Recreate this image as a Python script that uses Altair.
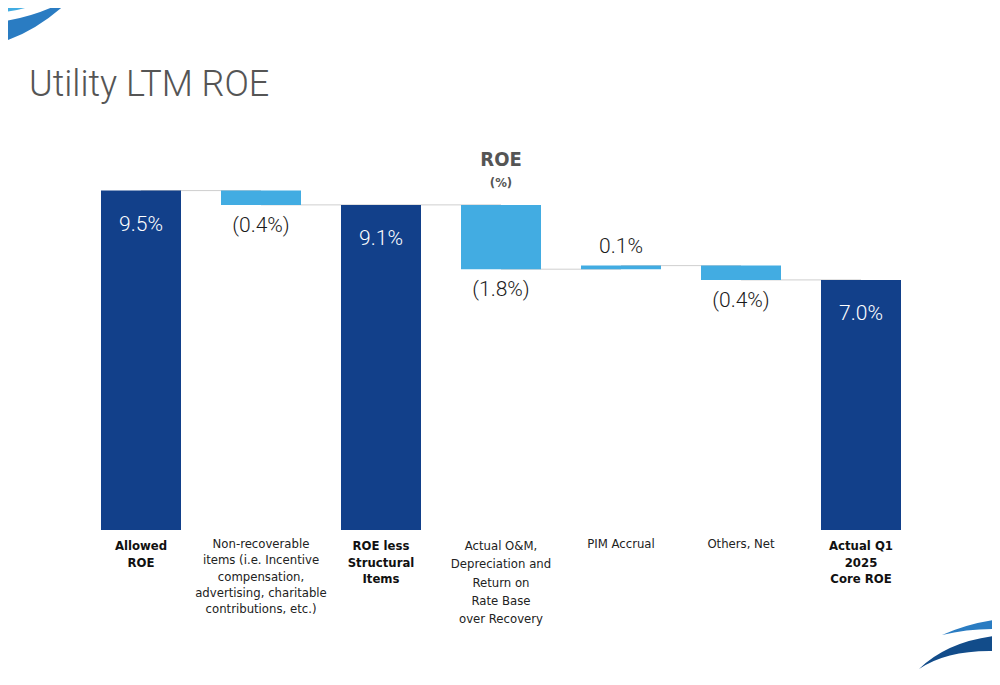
import altair as alt
import pandas as pd

categories = ["Allowed ROE", "Non-recoverable items", "ROE less Structural Items",
              "Actual O&M", "PIM Accrual", "Others, Net", "Actual Q1 2025 Core ROE"]
label_lines = [["Allowed", "ROE"],
               ["Non-recoverable", "items (i.e. Incentive", "compensation,", "advertising, charitable", "contributions, etc.)"],
               ["ROE less", "Structural", "Items"],
               ["Actual O&M,", "Depreciation and", "Return on", "Rate Base", "over Recovery"],
               ["PIM Accrual"],
               ["Others, Net"],
               ["Actual Q1", "2025", "Core ROE"]]
values = [9.5, -0.4, 9.1, -1.8, 0.1, -0.4, 7.0]
kinds = ["total", "delta", "total", "delta", "delta", "delta", "total"]
value_labels = ["9.5%", "(0.4%)", "9.1%", "(1.8%)", "0.1%", "(0.4%)", "7.0%"]
bold_label = [True, False, True, False, False, False, True]

DARK = "#12408A"
LIGHT = "#42ACE2"
FONT = "DejaVu Sans Condensed"
TFONT = "Roboto"

rows = []
running = 0.0
for c, v, k, vl, ll, b in zip(categories, values, kinds, value_labels, label_lines, bold_label):
    if k == "total":
        start, end = 0.0, v
    else:
        start, end = running, running + v
    running = end
    if k == "total":
        pos = "inside"
    elif v < 0:
        pos = "below"
    else:
        pos = "above"
    rows.append(dict(cat=c, start=start, end=end, lo=min(start, end), hi=max(start, end),
                     kind=k, vlabel=vl, pos=pos, label="\n".join(ll), bold=b))
df = pd.DataFrame(rows)

conn = pd.DataFrame([dict(cat=categories[i], nxt=categories[i + 1], level=rows[i]["end"])
                     for i in range(len(categories) - 1)])

xscale = alt.Scale(domain=categories, paddingInner=1 / 3, paddingOuter=1 / 6)
yscale = alt.Scale(domain=[0, 11])
X = alt.X("cat:N", scale=xscale, axis=None, sort=categories)
base = alt.Chart(df)

connectors = alt.Chart(conn).mark_rule(color="#cfcfcf", strokeWidth=1).encode(
    x=alt.X("cat:N", scale=xscale, axis=None, sort=categories),
    x2="nxt:N",
    y=alt.Y("level:Q", scale=yscale, axis=None),
)

bars = base.mark_bar(cornerRadius=0).encode(
    x=X,
    y=alt.Y("start:Q", scale=yscale, axis=None),
    y2="end:Q",
    color=alt.Color("kind:N", scale=alt.Scale(domain=["total", "delta"], range=[DARK, LIGHT]), legend=None),
)

lab_inside = base.transform_filter("datum.pos == 'inside'").mark_text(
    font=TFONT, fontSize=21, fontWeight=300, color="white", baseline="middle", dy=34
).encode(x=X, y=alt.Y("hi:Q", scale=yscale), text="vlabel:N")

lab_below = base.transform_filter("datum.pos == 'below'").mark_text(
    font=TFONT, fontSize=21, fontWeight=300, color="#1a1a1a", baseline="middle", dy=21
).encode(x=X, y=alt.Y("lo:Q", scale=yscale), text="vlabel:N")

lab_above = base.transform_filter("datum.pos == 'above'").mark_text(
    font=TFONT, fontSize=21, fontWeight=300, color="#1a1a1a", baseline="middle", dy=-19
).encode(x=X, y=alt.Y("hi:Q", scale=yscale), text="vlabel:N")

cat_bold = base.transform_filter("datum.bold").mark_text(
    font=FONT, fontSize=13, fontWeight="bold", color="#111111", baseline="top",
    lineBreak="\n", lineHeight=16.5, align="center"
).encode(x=X, y=alt.value(403), text="label:N")

cat_norm = base.transform_filter("!datum.bold && datum.cat != 'Actual O&M'").mark_text(
    font=FONT, fontSize=13, color="#222222", baseline="top",
    lineBreak="\n", lineHeight=16.3, align="center"
).encode(x=X, y=alt.value(401), text="label:N")

cat_om = base.transform_filter("datum.cat == 'Actual O&M'").mark_text(
    font=FONT, fontSize=13, color="#222222", baseline="top",
    lineBreak="\n", lineHeight=18.3, align="center"
).encode(x=X, y=alt.value(403), text="label:N")

ann = pd.DataFrame({"t": ["Utility LTM ROE", "ROE", "(%)"]})
title = alt.Chart(ann).transform_filter("datum.t == 'Utility LTM ROE'").mark_text(
    font=TFONT, fontSize=36, fontWeight=300, color="#555555", align="left", baseline="alphabetic"
).encode(x=alt.value(-52), y=alt.value(-41), text="t:N")
head1 = alt.Chart(ann).transform_filter("datum.t == 'ROE'").mark_text(
    font=FONT, fontSize=20, fontWeight="bold", color="#555555", align="center", baseline="middle"
).encode(x=alt.value(420), y=alt.value(23), text="t:N")
head2 = alt.Chart(ann).transform_filter("datum.t == '(%)'").mark_text(
    font=FONT, fontSize=13, fontWeight="bold", color="#555555", align="center", baseline="middle"
).encode(x=alt.value(420), y=alt.value(46), text="t:N")

# decorative swooshes (page pixel coordinates, drawn relative to page origin)
swooshes = pd.DataFrame({
    "name": ["tl_light", "tl_dark", "br_light", "br_dark"],
    "path": [
        "M-2,-2 L67,-2 L64,0 Q40,20 -2,21 Z",
        "M0,31 Q50,25 84,2 Q45,42 0,53 Z",
        "M950,643 Q975,632 1002,628 L1002,637 Q975,637 950,643 Z",
        "M927,677 Q955,650 1002,644 L1002,659 Q955,658 927,677 Z",
    ],
    "col": ["#41ACE2", "#2A7CC2", "#2A7CC2", "#124C8A"],
})
deco = []
for _, r in swooshes.iterrows():
    deco.append(
        alt.Chart(pd.DataFrame([r])).mark_point(
            shape=r["path"], size=4, filled=True, fill=r["col"], strokeWidth=0, opacity=1
        ).encode(x=alt.value(-89), y=alt.value(-145))
    )

chart = alt.layer(
    *deco, connectors, bars, lab_inside, lab_below, lab_above, cat_bold, cat_norm, cat_om,
    title, head1, head2
).properties(
    width=840, height=393,
    autosize=alt.AutoSizeParams(type="none"),
    padding={"left": 73, "top": 129, "right": 71, "bottom": 147},
).configure(background="white").configure_view(strokeWidth=0, stroke="transparent")

chart.save("out.html", embed_options={"renderer": "svg", "actions": False})
